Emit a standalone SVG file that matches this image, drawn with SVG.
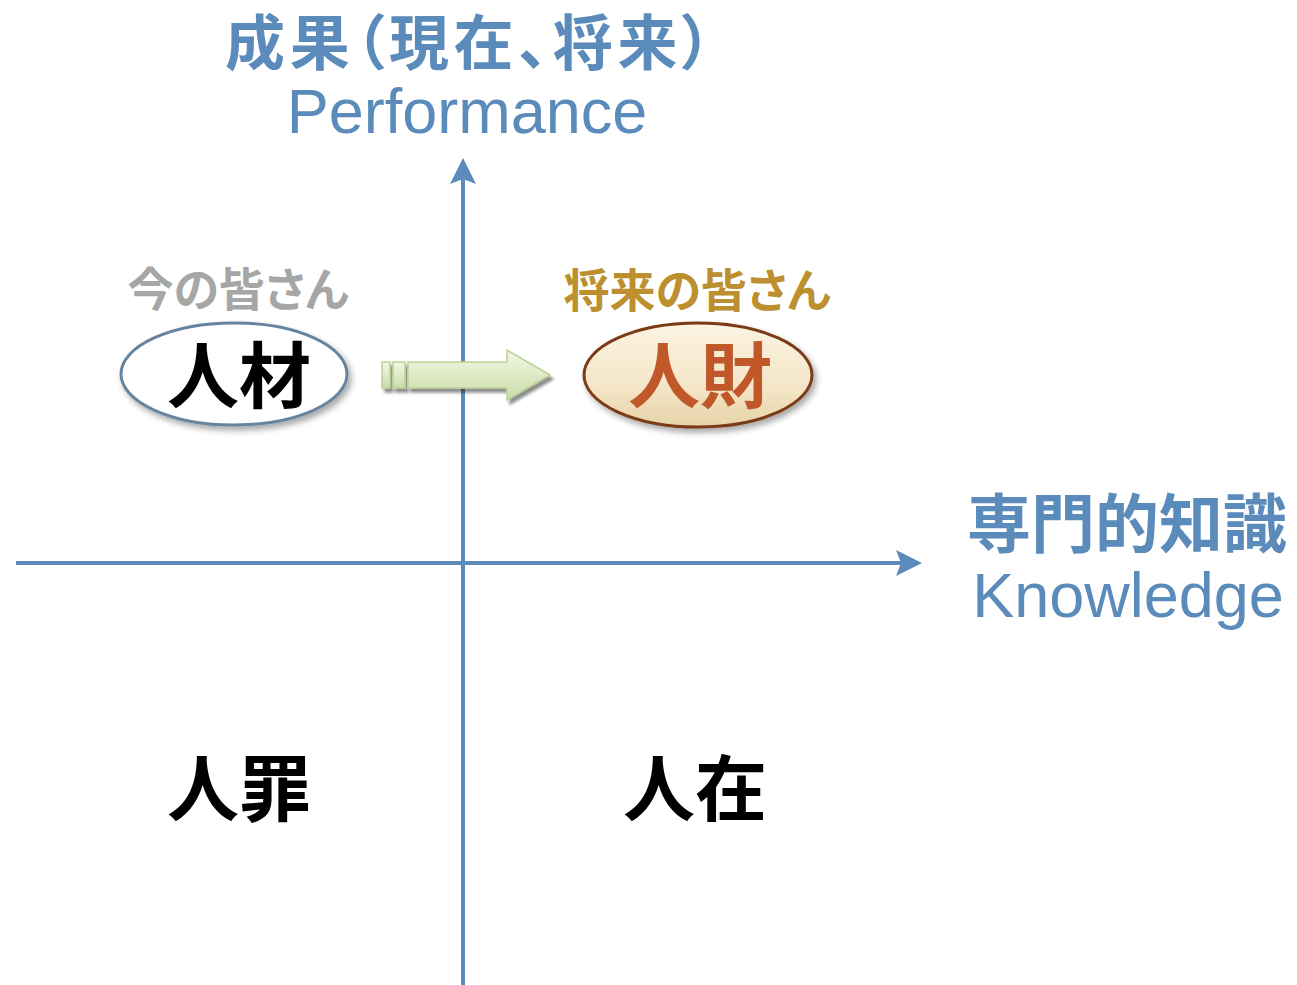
<svg xmlns="http://www.w3.org/2000/svg" width="1297" height="985" viewBox="0 0 1297 985">
<defs>
<style>
.cjk{font-family:"Noto Sans CJK JP","Noto Sans CJK SC",sans-serif;font-weight:700;font-feature-settings:"palt";}
.lat{font-family:"Liberation Sans",Arial,sans-serif;}
.blue{fill:#5A8BBA;}
.axis{stroke:#5A8BBA;stroke-width:4;fill:none;}
.big{font-size:72px;text-anchor:middle;}
</style>
<marker id="ah" viewBox="0 0 26 26" refX="22" refY="13" markerWidth="26" markerHeight="26" markerUnits="userSpaceOnUse" orient="auto">
<path d="M0,0 L26,13 L0,26 L5,13 Z" fill="#5A8BBA"/>
</marker>
<linearGradient id="gcream" x1="0" y1="0" x2="0" y2="1">
<stop offset="0" stop-color="#FBF3E2"/>
<stop offset="0.6" stop-color="#F4E6C8"/>
<stop offset="1" stop-color="#E6D3A8"/>
</linearGradient>
<linearGradient id="ggreen" x1="0" y1="0" x2="0" y2="1">
<stop offset="0" stop-color="#F1F7E6"/>
<stop offset="1" stop-color="#CADDA6"/>
</linearGradient>
<filter id="sh" x="-20%" y="-20%" width="150%" height="160%">
<feGaussianBlur in="SourceAlpha" stdDeviation="3"/>
<feOffset dx="3" dy="4" result="b"/>
<feComponentTransfer><feFuncA type="linear" slope="0.35"/></feComponentTransfer>
<feMerge><feMergeNode/><feMergeNode in="SourceGraphic"/></feMerge>
</filter>
<filter id="sh2" x="-20%" y="-30%" width="150%" height="180%">
<feOffset in="SourceAlpha" dx="3" dy="4"/>
<feGaussianBlur stdDeviation="1.5"/>
<feComponentTransfer><feFuncA type="linear" slope="0.45"/></feComponentTransfer>
<feMerge><feMergeNode/><feMergeNode in="SourceGraphic"/></feMerge>
</filter>
</defs>
<rect width="1297" height="985" fill="#FFFFFF"/>

<g id="connectors">
<line class="axis" x1="463" y1="985" x2="463" y2="162" marker-end="url(#ah)"/>
<line class="axis" x1="16" y1="563" x2="918" y2="563" marker-end="url(#ah)"/>
</g>

<g id="y-axis-label">
<text class="cjk blue" x="225" y="65" font-size="60" textLength="487" lengthAdjust="spacing">成果（現在、将来）</text>
<text class="lat blue" x="467" y="133" font-size="63" text-anchor="middle">Performance</text>
</g>

<g id="x-axis-label">
<text class="cjk blue" x="1127" y="547" font-size="64" text-anchor="middle">専門的知識</text>
<text class="lat blue" x="1128" y="617" font-size="63" text-anchor="middle">Knowledge</text>
</g>

<g id="now-node">
<text class="cjk" x="238" y="306" font-size="46" fill="#A6A6A6" text-anchor="middle">今の皆さん</text>
<ellipse cx="234" cy="374" rx="113" ry="51" fill="#FFFFFF" stroke="#66849E" stroke-width="3" filter="url(#sh)"/>
<text class="cjk big" x="239" y="402" fill="#000000">人材</text>
</g>

<g id="transition-arrow" filter="url(#sh2)">
<rect x="382" y="362" width="8" height="26" fill="url(#ggreen)" stroke="#BBD196" stroke-width="1.5"/>
<rect x="393" y="362" width="12" height="26" fill="url(#ggreen)" stroke="#BBD196" stroke-width="1.5"/>
<path d="M408,362 L507,362 L507,350 L550,375 L507,400 L507,388 L408,388 Z" fill="url(#ggreen)" stroke="#BBD196" stroke-width="1.5"/>
</g>

<g id="future-node">
<text class="cjk" x="697" y="307" font-size="46" fill="#BC8F2F" text-anchor="middle">将来の皆さん</text>
<ellipse cx="698" cy="375" rx="114" ry="52" fill="url(#gcream)" stroke="#7A3A16" stroke-width="3" filter="url(#sh)"/>
<text class="cjk big" x="700" y="402" fill="#C0582A">人財</text>
</g>

<g id="quadrant-bottom-left">
<text class="cjk big" x="239" y="815" fill="#000000">人罪</text>
</g>

<g id="quadrant-bottom-right">
<text class="cjk big" x="695" y="815" fill="#000000">人在</text>
</g>
</svg>
